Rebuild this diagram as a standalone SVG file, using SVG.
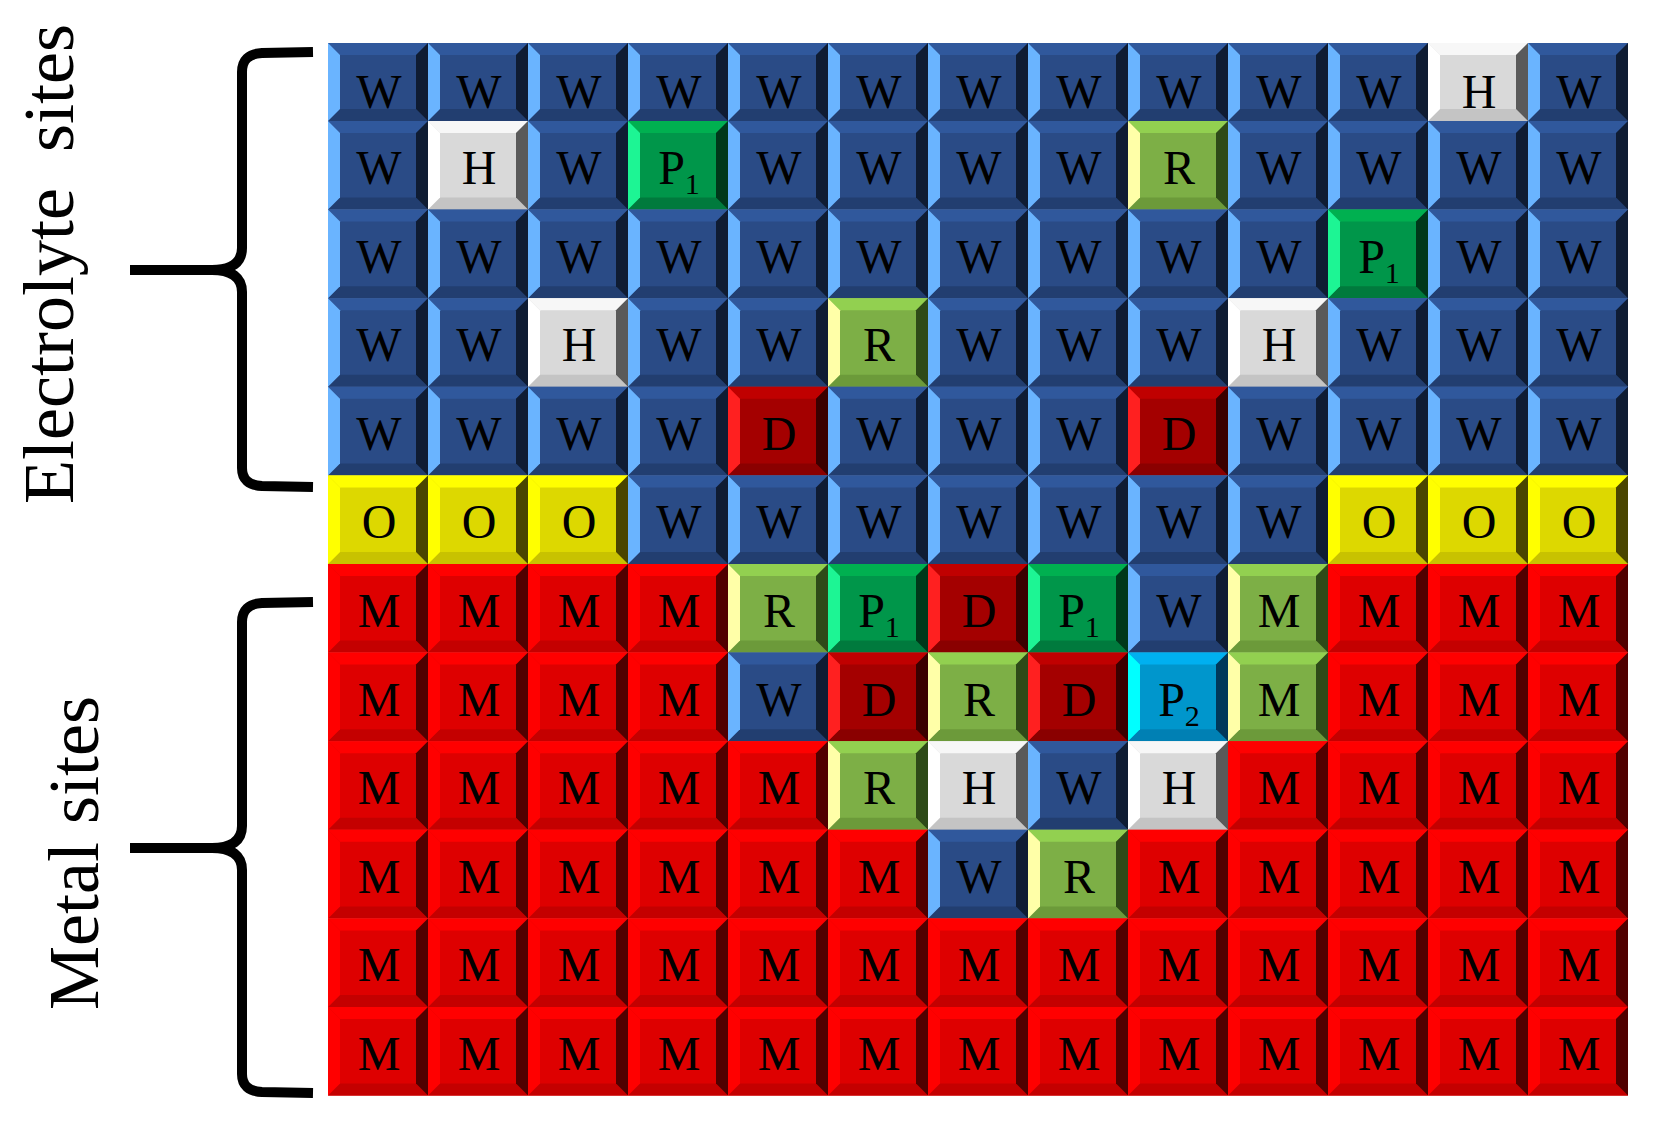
<svg xmlns="http://www.w3.org/2000/svg" xmlns:xlink="http://www.w3.org/1999/xlink" width="1665" height="1122" viewBox="0 0 1665 1122">
<style>
.ft{fill:var(--t)}.fl{fill:var(--l)}.fr{fill:var(--r)}.fb{fill:var(--b)}.ff{fill:var(--f)}
.W{--t:#30589C;--l:#6AB4FF;--r:#0F1C33;--b:#223E70;--f:#2A4B86}
.H{--t:#F7F7F7;--l:#FFFFFF;--r:#5A5A5A;--b:#C4C4C4;--f:#D9D9D9}
.P1{--t:#00B050;--l:#1DF594;--r:#00381A;--b:#007A3D;--f:#00964A}
.R{--t:#92D050;--l:#FFFFA8;--r:#2E4A18;--b:#6C9A3A;--f:#7DAF46}
.D{--t:#C00000;--l:#FF2020;--r:#3A0000;--b:#8A0000;--f:#A40000}
.O{--t:#FFFF00;--l:#FFFF00;--r:#4A4500;--b:#C8C200;--f:#DDD800}
.M{--t:#FF0000;--l:#FF0000;--r:#500000;--b:#C40000;--f:#DE0000}
.P2{--t:#00B0F0;--l:#00FFFF;--r:#00385A;--b:#0080B4;--f:#0096CC}
#grid text{font-family:"Liberation Serif","Times New Roman",serif;font-size:48px;text-anchor:middle;fill:#000}
.side{font-family:"Liberation Serif","Times New Roman",serif;font-size:72px;text-anchor:middle;fill:#000}
.brace{fill:none;stroke:#000;stroke-width:10;stroke-linecap:butt;stroke-linejoin:round}
</style>
<defs>
<g id="bv">
<rect class="ff" x="0" y="0" width="100" height="88.6"/>
<polygon class="ft" points="0,0 100,0 88,12 12,12"/>
<polygon class="fb" points="0,88.6 12,76.6 88,76.6 100,88.6"/>
<polygon class="fl" points="0,0 12,12 12,76.6 0,88.6"/>
<polygon class="fr" points="100,0 100,88.6 88,76.6 88,12"/>
</g>
<g id="bv0">
<rect class="ff" x="0" y="0" width="100" height="78"/>
<polygon class="ft" points="0,0 100,0 88,12 12,12"/>
<polygon class="fb" points="0,78 12,66 88,66 100,78"/>
<polygon class="fl" points="0,0 12,12 12,66 0,78"/>
<polygon class="fr" points="100,0 100,78 88,66 88,12"/>
</g>
</defs>
<rect width="1665" height="1122" fill="#fff"/>
<g id="grid">
<g id="c0-0" class="W" transform="translate(328,43)"><use href="#bv0"/><text x="51" y="65">W</text></g>
<g id="c0-1" class="W" transform="translate(428,43)"><use href="#bv0"/><text x="51" y="65">W</text></g>
<g id="c0-2" class="W" transform="translate(528,43)"><use href="#bv0"/><text x="51" y="65">W</text></g>
<g id="c0-3" class="W" transform="translate(628,43)"><use href="#bv0"/><text x="51" y="65">W</text></g>
<g id="c0-4" class="W" transform="translate(728,43)"><use href="#bv0"/><text x="51" y="65">W</text></g>
<g id="c0-5" class="W" transform="translate(828,43)"><use href="#bv0"/><text x="51" y="65">W</text></g>
<g id="c0-6" class="W" transform="translate(928,43)"><use href="#bv0"/><text x="51" y="65">W</text></g>
<g id="c0-7" class="W" transform="translate(1028,43)"><use href="#bv0"/><text x="51" y="65">W</text></g>
<g id="c0-8" class="W" transform="translate(1128,43)"><use href="#bv0"/><text x="51" y="65">W</text></g>
<g id="c0-9" class="W" transform="translate(1228,43)"><use href="#bv0"/><text x="51" y="65">W</text></g>
<g id="c0-10" class="W" transform="translate(1328,43)"><use href="#bv0"/><text x="51" y="65">W</text></g>
<g id="c0-11" class="H" transform="translate(1428,43)"><use href="#bv0"/><text x="51" y="65">H</text></g>
<g id="c0-12" class="W" transform="translate(1528,43)"><use href="#bv0"/><text x="51" y="65">W</text></g>

<g id="c1-0" class="W" transform="translate(328,121)"><use href="#bv"/><text x="51" y="63">W</text></g>
<g id="c1-1" class="H" transform="translate(428,121)"><use href="#bv"/><text x="51" y="63">H</text></g>
<g id="c1-2" class="W" transform="translate(528,121)"><use href="#bv"/><text x="51" y="63">W</text></g>
<g id="c1-3" class="P1" transform="translate(628,121)"><use href="#bv"/><text x="51" y="63">P<tspan font-size="30" dy="10">1</tspan></text></g>
<g id="c1-4" class="W" transform="translate(728,121)"><use href="#bv"/><text x="51" y="63">W</text></g>
<g id="c1-5" class="W" transform="translate(828,121)"><use href="#bv"/><text x="51" y="63">W</text></g>
<g id="c1-6" class="W" transform="translate(928,121)"><use href="#bv"/><text x="51" y="63">W</text></g>
<g id="c1-7" class="W" transform="translate(1028,121)"><use href="#bv"/><text x="51" y="63">W</text></g>
<g id="c1-8" class="R" transform="translate(1128,121)"><use href="#bv"/><text x="51" y="63">R</text></g>
<g id="c1-9" class="W" transform="translate(1228,121)"><use href="#bv"/><text x="51" y="63">W</text></g>
<g id="c1-10" class="W" transform="translate(1328,121)"><use href="#bv"/><text x="51" y="63">W</text></g>
<g id="c1-11" class="W" transform="translate(1428,121)"><use href="#bv"/><text x="51" y="63">W</text></g>
<g id="c1-12" class="W" transform="translate(1528,121)"><use href="#bv"/><text x="51" y="63">W</text></g>

<g id="c2-0" class="W" transform="translate(328,209.6)"><use href="#bv"/><text x="51" y="63">W</text></g>
<g id="c2-1" class="W" transform="translate(428,209.6)"><use href="#bv"/><text x="51" y="63">W</text></g>
<g id="c2-2" class="W" transform="translate(528,209.6)"><use href="#bv"/><text x="51" y="63">W</text></g>
<g id="c2-3" class="W" transform="translate(628,209.6)"><use href="#bv"/><text x="51" y="63">W</text></g>
<g id="c2-4" class="W" transform="translate(728,209.6)"><use href="#bv"/><text x="51" y="63">W</text></g>
<g id="c2-5" class="W" transform="translate(828,209.6)"><use href="#bv"/><text x="51" y="63">W</text></g>
<g id="c2-6" class="W" transform="translate(928,209.6)"><use href="#bv"/><text x="51" y="63">W</text></g>
<g id="c2-7" class="W" transform="translate(1028,209.6)"><use href="#bv"/><text x="51" y="63">W</text></g>
<g id="c2-8" class="W" transform="translate(1128,209.6)"><use href="#bv"/><text x="51" y="63">W</text></g>
<g id="c2-9" class="W" transform="translate(1228,209.6)"><use href="#bv"/><text x="51" y="63">W</text></g>
<g id="c2-10" class="P1" transform="translate(1328,209.6)"><use href="#bv"/><text x="51" y="63">P<tspan font-size="30" dy="10">1</tspan></text></g>
<g id="c2-11" class="W" transform="translate(1428,209.6)"><use href="#bv"/><text x="51" y="63">W</text></g>
<g id="c2-12" class="W" transform="translate(1528,209.6)"><use href="#bv"/><text x="51" y="63">W</text></g>

<g id="c3-0" class="W" transform="translate(328,298.2)"><use href="#bv"/><text x="51" y="63">W</text></g>
<g id="c3-1" class="W" transform="translate(428,298.2)"><use href="#bv"/><text x="51" y="63">W</text></g>
<g id="c3-2" class="H" transform="translate(528,298.2)"><use href="#bv"/><text x="51" y="63">H</text></g>
<g id="c3-3" class="W" transform="translate(628,298.2)"><use href="#bv"/><text x="51" y="63">W</text></g>
<g id="c3-4" class="W" transform="translate(728,298.2)"><use href="#bv"/><text x="51" y="63">W</text></g>
<g id="c3-5" class="R" transform="translate(828,298.2)"><use href="#bv"/><text x="51" y="63">R</text></g>
<g id="c3-6" class="W" transform="translate(928,298.2)"><use href="#bv"/><text x="51" y="63">W</text></g>
<g id="c3-7" class="W" transform="translate(1028,298.2)"><use href="#bv"/><text x="51" y="63">W</text></g>
<g id="c3-8" class="W" transform="translate(1128,298.2)"><use href="#bv"/><text x="51" y="63">W</text></g>
<g id="c3-9" class="H" transform="translate(1228,298.2)"><use href="#bv"/><text x="51" y="63">H</text></g>
<g id="c3-10" class="W" transform="translate(1328,298.2)"><use href="#bv"/><text x="51" y="63">W</text></g>
<g id="c3-11" class="W" transform="translate(1428,298.2)"><use href="#bv"/><text x="51" y="63">W</text></g>
<g id="c3-12" class="W" transform="translate(1528,298.2)"><use href="#bv"/><text x="51" y="63">W</text></g>

<g id="c4-0" class="W" transform="translate(328,386.8)"><use href="#bv"/><text x="51" y="63">W</text></g>
<g id="c4-1" class="W" transform="translate(428,386.8)"><use href="#bv"/><text x="51" y="63">W</text></g>
<g id="c4-2" class="W" transform="translate(528,386.8)"><use href="#bv"/><text x="51" y="63">W</text></g>
<g id="c4-3" class="W" transform="translate(628,386.8)"><use href="#bv"/><text x="51" y="63">W</text></g>
<g id="c4-4" class="D" transform="translate(728,386.8)"><use href="#bv"/><text x="51" y="63">D</text></g>
<g id="c4-5" class="W" transform="translate(828,386.8)"><use href="#bv"/><text x="51" y="63">W</text></g>
<g id="c4-6" class="W" transform="translate(928,386.8)"><use href="#bv"/><text x="51" y="63">W</text></g>
<g id="c4-7" class="W" transform="translate(1028,386.8)"><use href="#bv"/><text x="51" y="63">W</text></g>
<g id="c4-8" class="D" transform="translate(1128,386.8)"><use href="#bv"/><text x="51" y="63">D</text></g>
<g id="c4-9" class="W" transform="translate(1228,386.8)"><use href="#bv"/><text x="51" y="63">W</text></g>
<g id="c4-10" class="W" transform="translate(1328,386.8)"><use href="#bv"/><text x="51" y="63">W</text></g>
<g id="c4-11" class="W" transform="translate(1428,386.8)"><use href="#bv"/><text x="51" y="63">W</text></g>
<g id="c4-12" class="W" transform="translate(1528,386.8)"><use href="#bv"/><text x="51" y="63">W</text></g>

<g id="c5-0" class="O" transform="translate(328,475.4)"><use href="#bv"/><text x="51" y="63">O</text></g>
<g id="c5-1" class="O" transform="translate(428,475.4)"><use href="#bv"/><text x="51" y="63">O</text></g>
<g id="c5-2" class="O" transform="translate(528,475.4)"><use href="#bv"/><text x="51" y="63">O</text></g>
<g id="c5-3" class="W" transform="translate(628,475.4)"><use href="#bv"/><text x="51" y="63">W</text></g>
<g id="c5-4" class="W" transform="translate(728,475.4)"><use href="#bv"/><text x="51" y="63">W</text></g>
<g id="c5-5" class="W" transform="translate(828,475.4)"><use href="#bv"/><text x="51" y="63">W</text></g>
<g id="c5-6" class="W" transform="translate(928,475.4)"><use href="#bv"/><text x="51" y="63">W</text></g>
<g id="c5-7" class="W" transform="translate(1028,475.4)"><use href="#bv"/><text x="51" y="63">W</text></g>
<g id="c5-8" class="W" transform="translate(1128,475.4)"><use href="#bv"/><text x="51" y="63">W</text></g>
<g id="c5-9" class="W" transform="translate(1228,475.4)"><use href="#bv"/><text x="51" y="63">W</text></g>
<g id="c5-10" class="O" transform="translate(1328,475.4)"><use href="#bv"/><text x="51" y="63">O</text></g>
<g id="c5-11" class="O" transform="translate(1428,475.4)"><use href="#bv"/><text x="51" y="63">O</text></g>
<g id="c5-12" class="O" transform="translate(1528,475.4)"><use href="#bv"/><text x="51" y="63">O</text></g>

<g id="c6-0" class="M" transform="translate(328,564)"><use href="#bv"/><text x="51" y="63">M</text></g>
<g id="c6-1" class="M" transform="translate(428,564)"><use href="#bv"/><text x="51" y="63">M</text></g>
<g id="c6-2" class="M" transform="translate(528,564)"><use href="#bv"/><text x="51" y="63">M</text></g>
<g id="c6-3" class="M" transform="translate(628,564)"><use href="#bv"/><text x="51" y="63">M</text></g>
<g id="c6-4" class="R" transform="translate(728,564)"><use href="#bv"/><text x="51" y="63">R</text></g>
<g id="c6-5" class="P1" transform="translate(828,564)"><use href="#bv"/><text x="51" y="63">P<tspan font-size="30" dy="10">1</tspan></text></g>
<g id="c6-6" class="D" transform="translate(928,564)"><use href="#bv"/><text x="51" y="63">D</text></g>
<g id="c6-7" class="P1" transform="translate(1028,564)"><use href="#bv"/><text x="51" y="63">P<tspan font-size="30" dy="10">1</tspan></text></g>
<g id="c6-8" class="W" transform="translate(1128,564)"><use href="#bv"/><text x="51" y="63">W</text></g>
<g id="c6-9" class="R" transform="translate(1228,564)"><use href="#bv"/><text x="51" y="63">M</text></g>
<g id="c6-10" class="M" transform="translate(1328,564)"><use href="#bv"/><text x="51" y="63">M</text></g>
<g id="c6-11" class="M" transform="translate(1428,564)"><use href="#bv"/><text x="51" y="63">M</text></g>
<g id="c6-12" class="M" transform="translate(1528,564)"><use href="#bv"/><text x="51" y="63">M</text></g>

<g id="c7-0" class="M" transform="translate(328,652.6)"><use href="#bv"/><text x="51" y="63">M</text></g>
<g id="c7-1" class="M" transform="translate(428,652.6)"><use href="#bv"/><text x="51" y="63">M</text></g>
<g id="c7-2" class="M" transform="translate(528,652.6)"><use href="#bv"/><text x="51" y="63">M</text></g>
<g id="c7-3" class="M" transform="translate(628,652.6)"><use href="#bv"/><text x="51" y="63">M</text></g>
<g id="c7-4" class="W" transform="translate(728,652.6)"><use href="#bv"/><text x="51" y="63">W</text></g>
<g id="c7-5" class="D" transform="translate(828,652.6)"><use href="#bv"/><text x="51" y="63">D</text></g>
<g id="c7-6" class="R" transform="translate(928,652.6)"><use href="#bv"/><text x="51" y="63">R</text></g>
<g id="c7-7" class="D" transform="translate(1028,652.6)"><use href="#bv"/><text x="51" y="63">D</text></g>
<g id="c7-8" class="P2" transform="translate(1128,652.6)"><use href="#bv"/><text x="51" y="63">P<tspan font-size="30" dy="10">2</tspan></text></g>
<g id="c7-9" class="R" transform="translate(1228,652.6)"><use href="#bv"/><text x="51" y="63">M</text></g>
<g id="c7-10" class="M" transform="translate(1328,652.6)"><use href="#bv"/><text x="51" y="63">M</text></g>
<g id="c7-11" class="M" transform="translate(1428,652.6)"><use href="#bv"/><text x="51" y="63">M</text></g>
<g id="c7-12" class="M" transform="translate(1528,652.6)"><use href="#bv"/><text x="51" y="63">M</text></g>

<g id="c8-0" class="M" transform="translate(328,741.2)"><use href="#bv"/><text x="51" y="63">M</text></g>
<g id="c8-1" class="M" transform="translate(428,741.2)"><use href="#bv"/><text x="51" y="63">M</text></g>
<g id="c8-2" class="M" transform="translate(528,741.2)"><use href="#bv"/><text x="51" y="63">M</text></g>
<g id="c8-3" class="M" transform="translate(628,741.2)"><use href="#bv"/><text x="51" y="63">M</text></g>
<g id="c8-4" class="M" transform="translate(728,741.2)"><use href="#bv"/><text x="51" y="63">M</text></g>
<g id="c8-5" class="R" transform="translate(828,741.2)"><use href="#bv"/><text x="51" y="63">R</text></g>
<g id="c8-6" class="H" transform="translate(928,741.2)"><use href="#bv"/><text x="51" y="63">H</text></g>
<g id="c8-7" class="W" transform="translate(1028,741.2)"><use href="#bv"/><text x="51" y="63">W</text></g>
<g id="c8-8" class="H" transform="translate(1128,741.2)"><use href="#bv"/><text x="51" y="63">H</text></g>
<g id="c8-9" class="M" transform="translate(1228,741.2)"><use href="#bv"/><text x="51" y="63">M</text></g>
<g id="c8-10" class="M" transform="translate(1328,741.2)"><use href="#bv"/><text x="51" y="63">M</text></g>
<g id="c8-11" class="M" transform="translate(1428,741.2)"><use href="#bv"/><text x="51" y="63">M</text></g>
<g id="c8-12" class="M" transform="translate(1528,741.2)"><use href="#bv"/><text x="51" y="63">M</text></g>

<g id="c9-0" class="M" transform="translate(328,829.8)"><use href="#bv"/><text x="51" y="63">M</text></g>
<g id="c9-1" class="M" transform="translate(428,829.8)"><use href="#bv"/><text x="51" y="63">M</text></g>
<g id="c9-2" class="M" transform="translate(528,829.8)"><use href="#bv"/><text x="51" y="63">M</text></g>
<g id="c9-3" class="M" transform="translate(628,829.8)"><use href="#bv"/><text x="51" y="63">M</text></g>
<g id="c9-4" class="M" transform="translate(728,829.8)"><use href="#bv"/><text x="51" y="63">M</text></g>
<g id="c9-5" class="M" transform="translate(828,829.8)"><use href="#bv"/><text x="51" y="63">M</text></g>
<g id="c9-6" class="W" transform="translate(928,829.8)"><use href="#bv"/><text x="51" y="63">W</text></g>
<g id="c9-7" class="R" transform="translate(1028,829.8)"><use href="#bv"/><text x="51" y="63">R</text></g>
<g id="c9-8" class="M" transform="translate(1128,829.8)"><use href="#bv"/><text x="51" y="63">M</text></g>
<g id="c9-9" class="M" transform="translate(1228,829.8)"><use href="#bv"/><text x="51" y="63">M</text></g>
<g id="c9-10" class="M" transform="translate(1328,829.8)"><use href="#bv"/><text x="51" y="63">M</text></g>
<g id="c9-11" class="M" transform="translate(1428,829.8)"><use href="#bv"/><text x="51" y="63">M</text></g>
<g id="c9-12" class="M" transform="translate(1528,829.8)"><use href="#bv"/><text x="51" y="63">M</text></g>

<g id="c10-0" class="M" transform="translate(328,918.4)"><use href="#bv"/><text x="51" y="63">M</text></g>
<g id="c10-1" class="M" transform="translate(428,918.4)"><use href="#bv"/><text x="51" y="63">M</text></g>
<g id="c10-2" class="M" transform="translate(528,918.4)"><use href="#bv"/><text x="51" y="63">M</text></g>
<g id="c10-3" class="M" transform="translate(628,918.4)"><use href="#bv"/><text x="51" y="63">M</text></g>
<g id="c10-4" class="M" transform="translate(728,918.4)"><use href="#bv"/><text x="51" y="63">M</text></g>
<g id="c10-5" class="M" transform="translate(828,918.4)"><use href="#bv"/><text x="51" y="63">M</text></g>
<g id="c10-6" class="M" transform="translate(928,918.4)"><use href="#bv"/><text x="51" y="63">M</text></g>
<g id="c10-7" class="M" transform="translate(1028,918.4)"><use href="#bv"/><text x="51" y="63">M</text></g>
<g id="c10-8" class="M" transform="translate(1128,918.4)"><use href="#bv"/><text x="51" y="63">M</text></g>
<g id="c10-9" class="M" transform="translate(1228,918.4)"><use href="#bv"/><text x="51" y="63">M</text></g>
<g id="c10-10" class="M" transform="translate(1328,918.4)"><use href="#bv"/><text x="51" y="63">M</text></g>
<g id="c10-11" class="M" transform="translate(1428,918.4)"><use href="#bv"/><text x="51" y="63">M</text></g>
<g id="c10-12" class="M" transform="translate(1528,918.4)"><use href="#bv"/><text x="51" y="63">M</text></g>

<g id="c11-0" class="M" transform="translate(328,1007)"><use href="#bv"/><text x="51" y="63">M</text></g>
<g id="c11-1" class="M" transform="translate(428,1007)"><use href="#bv"/><text x="51" y="63">M</text></g>
<g id="c11-2" class="M" transform="translate(528,1007)"><use href="#bv"/><text x="51" y="63">M</text></g>
<g id="c11-3" class="M" transform="translate(628,1007)"><use href="#bv"/><text x="51" y="63">M</text></g>
<g id="c11-4" class="M" transform="translate(728,1007)"><use href="#bv"/><text x="51" y="63">M</text></g>
<g id="c11-5" class="M" transform="translate(828,1007)"><use href="#bv"/><text x="51" y="63">M</text></g>
<g id="c11-6" class="M" transform="translate(928,1007)"><use href="#bv"/><text x="51" y="63">M</text></g>
<g id="c11-7" class="M" transform="translate(1028,1007)"><use href="#bv"/><text x="51" y="63">M</text></g>
<g id="c11-8" class="M" transform="translate(1128,1007)"><use href="#bv"/><text x="51" y="63">M</text></g>
<g id="c11-9" class="M" transform="translate(1228,1007)"><use href="#bv"/><text x="51" y="63">M</text></g>
<g id="c11-10" class="M" transform="translate(1328,1007)"><use href="#bv"/><text x="51" y="63">M</text></g>
<g id="c11-11" class="M" transform="translate(1428,1007)"><use href="#bv"/><text x="51" y="63">M</text></g>
<g id="c11-12" class="M" transform="translate(1528,1007)"><use href="#bv"/><text x="51" y="63">M</text></g>
</g>
<g id="braces">
<path id="brace-electrolyte" class="brace" d="M313,52 L262,53 Q242,54 242,72 L242,248 Q242,270 212,270 L130,270 M242,292 Q242,270 212,270 M242,292 L242,468 Q242,485 262,486 L313,487"/>
<path id="brace-metal" class="brace" d="M313,602 L262,603 Q242,604 242,622 L242,826 Q242,848 212,848 L130,848 M242,870 Q242,848 212,848 M242,870 L242,1074 Q242,1091 262,1092 L313,1093"/>
</g>
<g id="labels">
<text id="label-electrolyte" class="side" transform="translate(73,264) rotate(-90)" xml:space="preserve">Electrolyte  sites</text>
<text id="label-metal" class="side" transform="translate(98,853) rotate(-90)">Metal sites</text>
</g>
</svg>
